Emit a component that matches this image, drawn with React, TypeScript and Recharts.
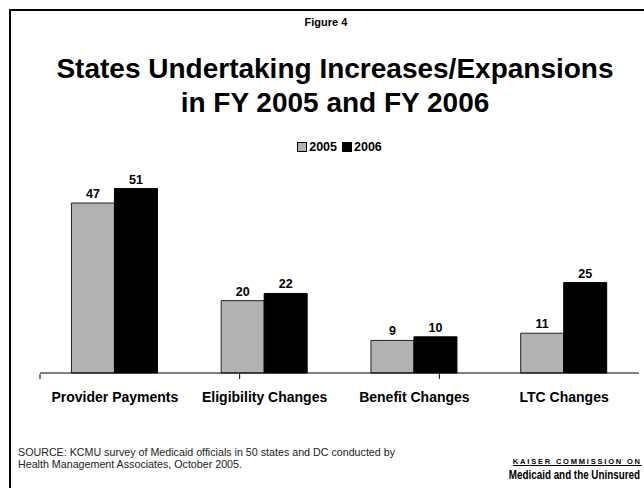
import React from "react";
import { BarChart, Bar, XAxis, YAxis, Legend, LabelList } from "recharts";

const categories = ["Provider Payments", "Eligibility Changes", "Benefit Changes", "LTC Changes"];
const fy2005 = [47, 20, 9, 11];
const fy2006 = [51, 22, 10, 25];
const edgeTicks = [0, 1, 2, 3, 4];

const data = categories.map((c, i) => ({ category: c, y2005: fy2005[i], y2006: fy2006[i] }));

const FONT = "Arial, 'Liberation Sans', Helvetica, sans-serif";

const LegendBox = ({ payload }: any) => (
  <div style={{ display: "flex", justifyContent: "center", alignItems: "center", fontFamily: FONT, fontWeight: "bold", fontSize: 12.5 }}>
    {(payload || []).map((p: any) => (
      <span key={p.value} style={{ display: "inline-flex", alignItems: "center", marginRight: 5 }}>
        <span style={{ width: 8, height: 8, background: p.color, border: "1px solid #000", marginRight: 2, display: "inline-block" }} />
        {p.value}
      </span>
    ))}
  </div>
);

export default function App() {
  return (
    <div style={{ position: "absolute", left: 0, top: 0, width: 644, height: 488, overflow: "hidden", background: "#fff", fontFamily: FONT }}>
      <div style={{ position: "absolute", left: 9, top: 9, width: 700, height: 600, borderLeft: "2px solid #000", borderTop: "2px solid #000" }} />
      <div style={{ position: "absolute", left: 0, top: 16, width: 652, textAlign: "center", fontSize: 11, fontWeight: "bold" }}>Figure 4</div>
      <div style={{ position: "absolute", left: 0, top: 52, width: 670, textAlign: "center", fontSize: 28, fontWeight: "bold", lineHeight: "34px" }}>
        States Undertaking Increases/Expansions
        <br />
        in FY 2005 and FY 2006
      </div>
      <div style={{ position: "absolute", left: 0, top: 0 }}>
        <BarChart width={644} height={488} data={data} margin={{ top: 156, right: 5, left: 40, bottom: 113 }} barCategoryGap="21%" barGap={0}>
          <XAxis xAxisId="cat" dataKey="category" interval={0} tickLine={false} axisLine={{ stroke: "#000" }} tickMargin={13} height={1}
            tick={{ fill: "#000", fontSize: 14, fontWeight: "bold", fontFamily: FONT }} />
          <XAxis xAxisId="edge" type="number" domain={[0, 4]} ticks={edgeTicks} tick={() => <g />} axisLine={false} tickLine={{ stroke: "#000" }} tickSize={5} height={1} />
          <YAxis hide domain={[0, 60]} />
          <Legend verticalAlign="middle" align="center" layout="horizontal" content={<LegendBox />}
            wrapperStyle={{ top: 140, left: 0, width: 684 }} />
          <Bar xAxisId="cat" dataKey="y2005" name="2005" fill="#b2b2b2" stroke="#222" strokeWidth={1} isAnimationActive={false}>
            <LabelList dataKey="y2005" position="top" offset={5} fill="#000" fontSize={12.5} fontWeight="bold" fontFamily={FONT} />
          </Bar>
          <Bar xAxisId="cat" dataKey="y2006" name="2006" fill="#000" stroke="#000" strokeWidth={1} isAnimationActive={false}>
            <LabelList dataKey="y2006" position="top" offset={5} fill="#000" fontSize={12.5} fontWeight="bold" fontFamily={FONT} />
          </Bar>
        </BarChart>
      </div>
      <div style={{ position: "absolute", left: 18, top: 446, fontSize: 10.7, color: "#222", lineHeight: "12px", whiteSpace: "nowrap" }}>
        SOURCE: KCMU survey of Medicaid officials in 50 states and DC conducted by
        <br />
        Health Management Associates, October 2005.
      </div>
      <div style={{ position: "absolute", left: 440, top: 457, width: 200, textAlign: "right", fontWeight: "bold", color: "#000" }}>
        <div style={{ fontSize: 7.5, letterSpacing: 1.8, textDecoration: "underline", lineHeight: "10px", whiteSpace: "nowrap", marginRight: -1.8 }}>KAISER COMMISSION ON</div>
        <div style={{ height: 13, lineHeight: "13px" }}>
          <span style={{ fontSize: 12, whiteSpace: "nowrap", display: "inline-block", transform: "scaleX(0.82)", transformOrigin: "right center" }}>Medicaid and the Uninsured</span>
        </div>
      </div>
    </div>
  );
}
